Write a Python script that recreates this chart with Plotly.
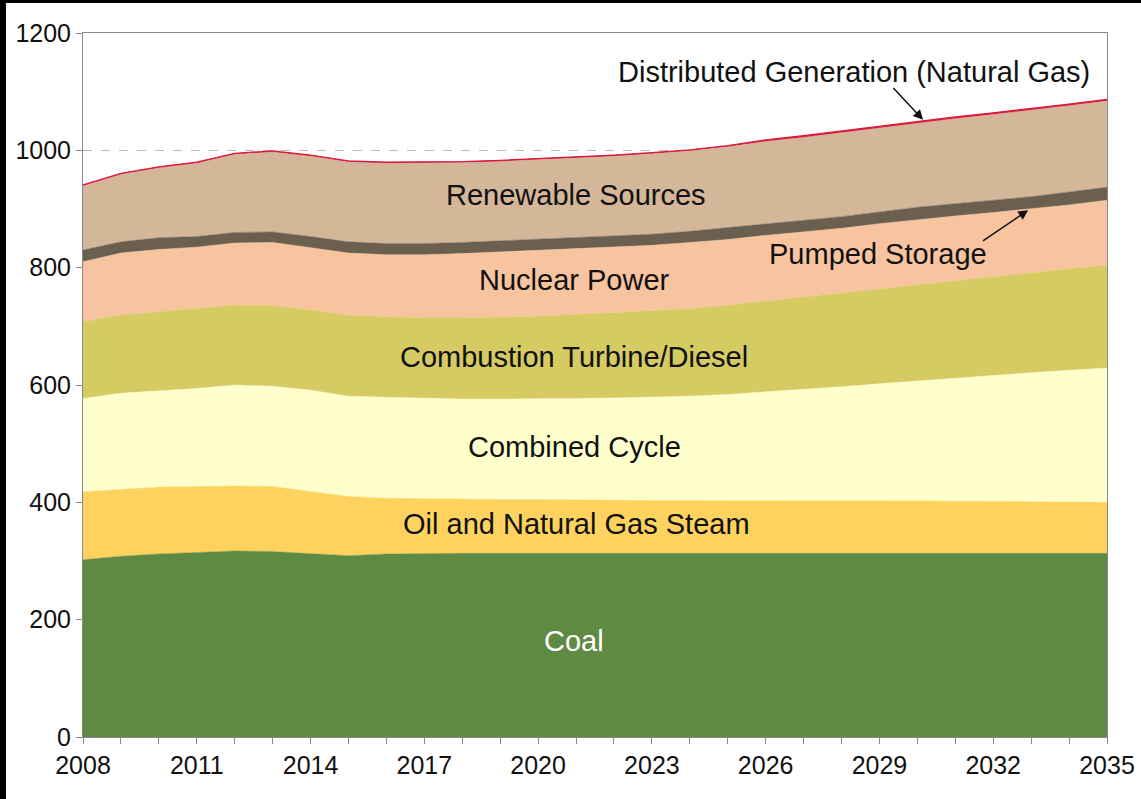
import plotly.graph_objects as go

years = list(range(2008, 2036))

coal = [302, 308, 312, 314, 317, 316, 313, 309, 312, 313, 313, 313, 313, 313,
        313, 313, 313, 313, 313, 313, 313, 313, 313, 313, 313, 313, 313, 313]
oil_gas_steam = [116, 114, 114, 113, 111, 111, 105, 101, 95, 93, 92, 92, 92, 91,
                 90, 90, 90, 90, 90, 90, 90, 90, 90, 89, 89, 88, 87, 87]
combined_cycle = [159, 164, 164, 167, 172, 171, 173, 171, 172, 171, 171, 171, 171, 173,
                  175, 176, 178, 181, 185, 189, 194, 199, 204, 210, 215, 220, 225, 229]
combustion_turbine = [131, 133, 135, 137, 136, 137, 137, 138, 137, 137, 138, 139, 141, 143,
                      145, 147, 149, 152, 155, 158, 160, 162, 164, 166, 168, 171, 173, 175]
nuclear = [102, 106, 106, 104, 106, 108, 106, 106, 106, 108, 110, 112, 112, 112,
           112, 112, 113, 112, 112, 111, 110, 111, 111, 110, 109, 108, 109, 111]
pumped_storage = [20, 19, 20, 18, 18, 18, 19, 19, 19, 19, 19, 19, 19, 19,
                  19, 19, 19, 20, 20, 20, 20, 20, 21, 21, 21, 21, 22, 22]
renewables = [109, 115, 119, 125, 133, 136, 137, 136, 137, 137, 136, 135, 136, 135,
              136, 137, 137, 138, 140, 141, 143, 143, 144, 145, 146, 147, 147, 147]
distributed_gen = [2, 2, 2, 2, 2, 2, 2, 2, 2, 2, 2, 2, 2, 2,
                   2, 2, 2, 2, 3, 3, 3, 3, 3, 3, 3, 3, 3, 3]

tick_years = list(range(2008, 2036, 3))
y_ticks = [0, 200, 400, 600, 800, 1000, 1200]

series = [
    ("Coal", coal, "#5F8A44"),
    ("Oil and Natural Gas Steam", oil_gas_steam, "#FED25E"),
    ("Combined Cycle", combined_cycle, "#FFFFCC"),
    ("Combustion Turbine/Diesel", combustion_turbine, "#D6CA62"),
    ("Nuclear Power", nuclear, "#F8C4A0"),
    ("Pumped Storage", pumped_storage, "#6B6050"),
    ("Renewable Sources", renewables, "#D4B698"),
]

fig = go.Figure()
for name, vals, col in series:
    fig.add_trace(go.Scatter(
        x=years, y=vals, name=name, stackgroup="one", mode="lines",
        line=dict(color=col, width=0.5), fillcolor=col, hoverinfo="x+y+name"))
fig.add_trace(go.Scatter(
    x=years, y=distributed_gen, name="Distributed Generation (Natural Gas)",
    stackgroup="one", mode="lines", line=dict(color="#D8193C", width=1.2),
    fillcolor="#D8193C"))

FONT = "Liberation Sans, Arial, sans-serif"

labels = [
    ("Distributed Generation (Natural Gas)", 2028.34, 1133, "#111111"),
    ("Renewable Sources", 2021.0, 924, "#111111"),
    ("Pumped Storage", 2028.95, 823, "#111111"),
    ("Nuclear Power", 2020.97, 779, "#111111"),
    ("Combustion Turbine/Diesel", 2020.95, 648, "#111111"),
    ("Combined Cycle", 2020.97, 494, "#111111"),
    ("Oil and Natural Gas Steam", 2021.0, 363, "#111111"),
    ("Coal", 2020.95, 164, "#FFFFFF"),
]
annotations = []
for txt, x, y, c in labels:
    annotations.append(dict(x=x, y=y, xref="x", yref="y", text=txt, showarrow=False,
                            font=dict(family=FONT, size=29, color=c),
                            xanchor="center", yanchor="middle"))

# arrows
annotations.append(dict(x=2030.15, y=1052, xref="x", yref="y", ax=2029.33, ay=1109,
                        axref="x", ayref="y", text="", showarrow=True, arrowhead=2,
                        arrowsize=1.3, arrowwidth=1.5, arrowcolor="#111111"))
annotations.append(dict(x=2032.92, y=898, xref="x", yref="y", ax=2031.69, ay=844,
                        axref="x", ayref="y", text="", showarrow=True, arrowhead=2,
                        arrowsize=1.3, arrowwidth=1.5, arrowcolor="#111111"))

fig.update_layout(
    width=1141, height=799,
    margin=dict(l=83, r=34, t=33, b=62),
    paper_bgcolor="white", plot_bgcolor="white",
    showlegend=False,
    font=dict(family=FONT, color="#111111"),
    annotations=annotations,
    shapes=[
        dict(type="rect", xref="paper", yref="paper",
             x0=-83 / 1024, x1=-77 / 1024, y0=1 - (799 - 33) / 704, y1=1 + 33 / 704,
             fillcolor="black", line=dict(width=0), layer="above"),
        dict(type="rect", xref="paper", yref="paper",
             x0=-83 / 1024, x1=(1141 - 83) / 1024, y0=1 + 30 / 704, y1=1 + 33 / 704,
             fillcolor="black", line=dict(width=0), layer="above"),
    ],
)

fig.update_xaxes(
    range=[2008, 2035], tickmode="array", tickvals=years,
    ticktext=[str(y) if y in tick_years else "" for y in years],
    ticks="outside", ticklen=6, tickcolor="#888888",
    showline=True, linecolor="#888888", linewidth=1, mirror=True,
    showgrid=False, zeroline=False, automargin=False,
    tickfont=dict(family=FONT, size=25, color="#111111"),
)
fig.update_yaxes(
    range=[0, 1200], tickvals=y_ticks,
    ticks="outside", ticklen=6, tickcolor="#888888",
    showline=True, linecolor="#888888", linewidth=1, mirror=True,
    showgrid=True, gridcolor="#BBBBBB", griddash="dash", gridwidth=1,
    zeroline=False, automargin=False,
    tickfont=dict(family=FONT, size=25, color="#111111"),
)

fig.write_html(
    "out.html",
    config={"displayModeBar": False},
    post_script="document.body.style.margin='0';document.body.style.overflow='hidden';",
)
